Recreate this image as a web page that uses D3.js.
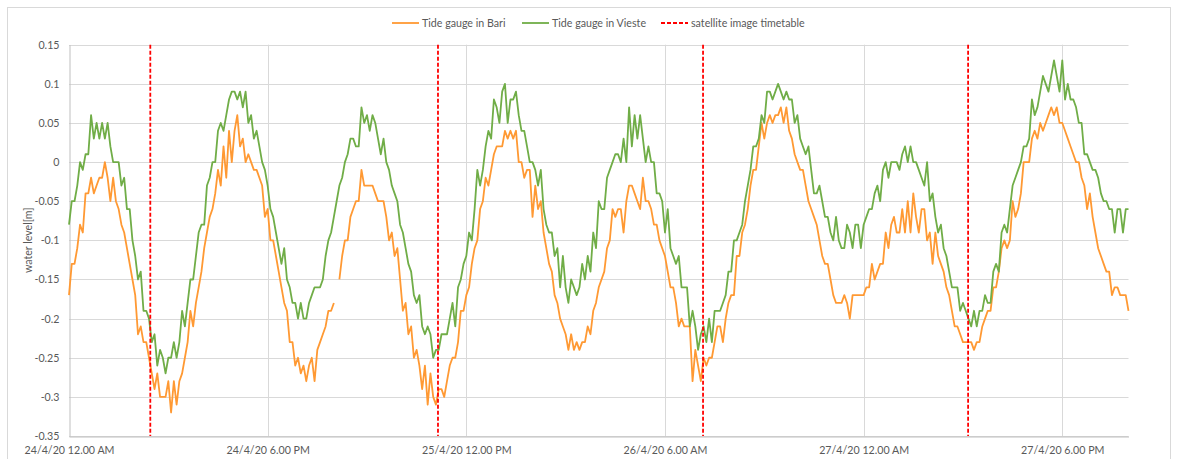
<!DOCTYPE html>
<html><head><meta charset="utf-8">
<script src="https://cdn.jsdelivr.net/npm/d3@7"></script>
<style>body{margin:0;background:#fff}svg{display:block}text{font-family:Lato,"Open Sans",sans-serif}</style>
</head><body><svg id="c" width="1178" height="459"></svg>
<script>
// ---------------- data ----------------
const seriesNames = ["Tide gauge in Bari", "Tide gauge in Vieste", "satellite image timetable"];
const startTime = new Date(2020, 3, 24, 0, 0);
const endTime = new Date(2020, 3, 28, 0, 0);
const stepMinutes = 15;
// water level [m], every 15 minutes from 24/4/20 00:00
const bari = [
-0.17,-0.13,-0.13,-0.11,-0.08,-0.09,-0.04,-0.04,-0.02,-0.04,-0.03,-0.02,-0.02,0.00,-0.02,-0.05,-0.02,-0.05,-0.06,-0.08,
-0.09,-0.11,-0.13,-0.15,-0.17,-0.22,-0.21,-0.23,-0.23,-0.25,-0.27,-0.29,-0.27,-0.30,-0.30,-0.30,-0.28,-0.32,-0.28,-0.31,
-0.28,-0.27,-0.25,-0.23,-0.19,-0.21,-0.18,-0.16,-0.14,-0.11,-0.09,-0.07,-0.06,-0.04,-0.01,-0.03,0.02,-0.02,0.04,0.00,
0.04,0.06,0.02,0.03,0.00,0.01,0.00,-0.01,-0.01,-0.02,-0.03,-0.07,-0.06,-0.10,-0.10,-0.12,-0.14,-0.16,-0.18,-0.19,
-0.23,-0.23,-0.26,-0.25,-0.27,-0.26,-0.28,-0.26,-0.25,-0.28,-0.24,-0.23,-0.22,-0.21,-0.19,-0.19,-0.18,null,-0.15,-0.12,
-0.10,-0.10,-0.07,-0.06,-0.05,-0.05,-0.01,-0.03,-0.03,-0.03,-0.03,-0.04,-0.05,-0.05,-0.05,-0.07,-0.10,-0.09,-0.12,-0.11,
-0.15,-0.19,-0.18,-0.22,-0.21,-0.25,-0.24,-0.26,-0.29,-0.26,-0.31,-0.27,-0.30,-0.31,-0.29,-0.29,-0.30,-0.28,-0.26,-0.25,
-0.25,-0.23,-0.19,-0.19,-0.17,-0.16,-0.13,-0.11,-0.10,-0.06,-0.05,-0.02,-0.03,-0.01,0.01,0.02,0.02,0.02,0.04,0.03,
0.04,0.03,0.04,0.00,0.00,-0.02,-0.01,-0.01,-0.07,-0.03,-0.06,-0.05,-0.09,-0.11,-0.13,-0.14,-0.17,-0.18,-0.20,-0.21,
-0.22,-0.24,-0.22,-0.24,-0.23,-0.24,-0.23,-0.23,-0.21,-0.22,-0.19,-0.18,-0.16,-0.15,-0.14,-0.11,-0.10,-0.06,-0.07,-0.06,
-0.06,-0.09,-0.05,-0.03,-0.03,-0.04,-0.05,-0.06,-0.02,-0.05,-0.05,-0.06,-0.08,-0.08,-0.10,-0.11,-0.12,-0.14,-0.16,-0.16,
-0.18,-0.21,-0.20,-0.21,-0.21,-0.21,-0.28,-0.24,-0.26,-0.28,-0.25,-0.26,-0.25,-0.25,-0.23,-0.21,-0.21,-0.23,-0.20,-0.18,
-0.17,-0.17,-0.12,-0.12,-0.09,-0.08,-0.06,-0.03,-0.01,-0.01,0.02,0.05,0.03,0.05,0.06,0.05,0.06,0.06,0.07,0.05,
0.07,0.04,0.03,0.01,0.00,-0.01,-0.01,-0.03,-0.05,-0.06,-0.07,-0.08,-0.10,-0.12,-0.13,-0.13,-0.15,-0.17,-0.18,-0.18,
-0.18,-0.17,-0.18,-0.20,-0.17,-0.17,-0.17,-0.17,-0.17,-0.16,-0.16,-0.13,-0.15,-0.14,-0.13,-0.13,-0.09,-0.11,-0.08,-0.07,
-0.09,-0.09,-0.06,-0.09,-0.05,-0.09,-0.04,-0.07,-0.09,-0.06,-0.06,-0.10,-0.09,-0.13,-0.09,-0.12,-0.13,-0.14,-0.16,-0.17,
-0.19,-0.21,-0.21,-0.22,-0.23,-0.23,-0.23,-0.23,-0.24,-0.23,-0.23,-0.21,-0.20,-0.19,-0.19,-0.16,-0.16,-0.14,-0.11,-0.10,
-0.11,-0.10,-0.05,-0.07,-0.06,-0.04,0.00,0.00,0.00,0.03,0.04,0.03,0.05,0.04,0.05,0.06,0.07,0.06,0.07,0.05,
0.05,0.04,0.03,0.02,0.01,0.00,0.00,-0.02,-0.03,-0.06,-0.04,-0.07,-0.09,-0.11,-0.12,-0.13,-0.14,-0.14,-0.17,-0.16,
-0.16,-0.17,-0.17,-0.17,-0.19
];
const vieste = [
-0.08,-0.05,-0.05,-0.03,0.00,-0.01,0.01,0.01,0.06,0.03,0.05,0.03,0.05,0.03,0.05,0.02,0.00,0.00,0.00,-0.03,
-0.02,-0.06,-0.06,-0.10,-0.12,-0.15,-0.14,-0.19,-0.19,-0.20,-0.23,-0.22,-0.26,-0.24,-0.25,-0.27,-0.25,-0.25,-0.23,-0.25,
-0.23,-0.19,-0.21,-0.18,-0.15,-0.15,-0.12,-0.09,-0.08,-0.08,-0.03,-0.02,0.00,0.00,0.04,0.05,0.04,0.06,0.08,0.09,
0.09,0.08,0.09,0.07,0.09,0.05,0.06,0.03,0.04,0.02,0.00,-0.01,-0.03,-0.06,-0.07,-0.09,-0.11,-0.13,-0.11,-0.15,
-0.16,-0.18,-0.18,-0.20,-0.18,-0.20,-0.20,-0.18,-0.17,-0.16,-0.16,-0.16,-0.15,-0.12,-0.10,-0.09,-0.07,-0.05,-0.03,-0.02,
0.00,0.01,0.03,0.03,0.02,0.02,0.07,0.05,0.06,0.04,0.06,0.05,0.03,0.01,0.03,0.00,-0.01,-0.03,-0.04,-0.05,
-0.08,-0.09,-0.11,-0.13,-0.14,-0.17,-0.18,-0.17,-0.21,-0.22,-0.21,-0.22,-0.25,-0.24,-0.24,-0.22,-0.22,-0.22,-0.20,-0.18,
-0.21,-0.16,-0.15,-0.13,-0.12,-0.09,-0.10,-0.06,-0.01,-0.03,-0.01,0.02,0.04,0.03,0.08,0.07,0.05,0.09,0.10,0.05,
0.08,0.08,0.09,0.06,0.04,0.04,0.02,0.00,0.00,-0.01,-0.03,-0.01,-0.06,-0.08,-0.09,-0.09,-0.12,-0.11,-0.16,-0.12,
-0.16,-0.18,-0.15,-0.16,-0.17,-0.16,-0.13,-0.15,-0.12,-0.14,-0.09,-0.11,-0.05,-0.06,-0.06,-0.02,-0.01,0.00,0.01,0.01,
0.00,0.03,0.00,0.07,0.02,0.06,0.03,0.06,0.03,0.00,0.02,0.00,0.00,-0.04,-0.04,-0.05,-0.09,-0.06,-0.11,-0.12,
-0.13,-0.12,-0.16,-0.16,-0.16,-0.21,-0.19,-0.21,-0.24,-0.22,-0.21,-0.23,-0.20,-0.23,-0.19,-0.19,-0.19,-0.18,-0.17,-0.14,
-0.14,-0.10,-0.10,-0.09,-0.08,-0.05,-0.03,-0.01,0.02,0.02,0.03,0.06,0.05,0.09,0.09,0.08,0.09,0.10,0.09,0.08,
0.09,0.08,0.08,0.05,0.06,0.03,0.02,0.01,0.02,-0.01,-0.04,-0.04,-0.03,-0.05,-0.07,-0.07,-0.09,-0.10,-0.07,-0.10,
-0.11,-0.11,-0.08,-0.09,-0.11,-0.08,-0.08,-0.11,-0.08,-0.07,-0.06,-0.06,-0.04,-0.03,-0.05,-0.01,0.00,-0.02,0.00,0.00,
0.00,-0.01,0.01,0.02,0.00,0.02,0.00,0.00,-0.01,-0.02,-0.03,0.00,-0.05,-0.04,-0.07,-0.09,-0.08,-0.11,-0.12,-0.14,
-0.16,-0.16,-0.16,-0.19,-0.18,-0.19,-0.20,-0.21,-0.19,-0.21,-0.19,-0.19,-0.17,-0.18,-0.18,-0.14,-0.13,-0.14,-0.09,-0.08,
-0.09,-0.06,-0.03,-0.02,-0.01,0.00,0.02,0.02,0.03,0.08,0.06,0.07,0.09,0.11,0.10,0.09,0.11,0.13,0.11,0.09,
0.13,0.08,0.10,0.08,0.08,0.07,0.05,0.05,0.01,0.01,0.00,-0.01,-0.01,-0.02,-0.04,-0.05,-0.05,-0.06,-0.06,-0.09,
-0.06,-0.06,-0.09,-0.06,-0.06
];
// satellite image acquisition times
const satelliteTimes = [
  new Date(2020, 3, 24, 7, 22), new Date(2020, 3, 25, 9, 26),
  new Date(2020, 3, 26, 9, 27), new Date(2020, 3, 27, 9, 28)
];
const xTickTimes = [
  new Date(2020, 3, 24, 0), new Date(2020, 3, 24, 18), new Date(2020, 3, 25, 12),
  new Date(2020, 3, 26, 6), new Date(2020, 3, 27, 0), new Date(2020, 3, 27, 18)
];
const xTickLabels = ["24/4/20 12.00 AM", "24/4/20 6.00 PM", "25/4/20 12.00 PM", "26/4/20 6.00 AM", "27/4/20 12.00 AM", "27/4/20 6.00 PM"];
const yTicks = [0.15, 0.1, 0.05, 0, -0.05, -0.1, -0.15, -0.2, -0.25, -0.3, -0.35];
const yTickLabels = ["0.15", "0.1", "0.05", "0", "-0.05", "-0.1", "-0.15", "-0.2", "-0.25", "-0.3", "-0.35"];
const yTitle = "water level[m]";

// ---------------- drawing ----------------
const times = bari.map((_, i) => new Date(startTime.getTime() + i * stepMinutes * 60000));
const colors = { bari: "#FF9933", vieste: "#70AD47", sat: "#FF0000" };
const fontSize = 10.67;
const svg = d3.select("#c");
const L = 69, R = 1128.5, T = 44.7, B = 436;

const x = d3.scaleTime().domain([startTime, endTime]).range([L, R]);
const y = d3.scaleLinear().domain([-0.35, 0.15]).range([B, T]);

svg.append("rect").attr("x", 7.5).attr("y", 7.5).attr("width", 1163).attr("height", 452)
  .attr("fill", "#fff").attr("stroke", "#d9d9d9");

// gridlines
svg.append("g").selectAll("line").data(yTicks).join("line")
  .attr("x1", L).attr("x2", R).attr("y1", d => Math.round(y(d)) + 0.5).attr("y2", d => Math.round(y(d)) + 0.5)
  .attr("stroke", "#d9d9d9").attr("stroke-width", 1);
svg.append("g").selectAll("line").data(xTickTimes.slice(1)).join("line")
  .attr("x1", d => Math.round(x(d)) + 0.5).attr("x2", d => Math.round(x(d)) + 0.5).attr("y1", T).attr("y2", B)
  .attr("stroke", "#d9d9d9").attr("stroke-width", 1);

// axes
const yAxis = d3.axisLeft(y).tickValues(yTicks).tickSize(0).tickPadding(10)
  .tickFormat((d, i) => yTickLabels[i]);
const gy = svg.append("g").attr("transform", `translate(${L + 0.5},0)`).call(yAxis);
gy.select(".domain").attr("stroke", "#bfbfbf");
gy.selectAll("text").attr("font-size", fontSize).attr("fill", "#595959").attr("font-family", "Lato");

const xAxis = d3.axisBottom(x).tickValues(xTickTimes).tickSize(0).tickPadding(10)
  .tickFormat((d, i) => xTickLabels[i]);
const gx = svg.append("g").attr("transform", `translate(0,${Math.round(B) + 0.5})`).call(xAxis);
gx.select(".domain").attr("stroke", "#bfbfbf");
gx.selectAll("text").attr("font-size", fontSize).attr("fill", "#595959").attr("font-family", "Lato");

svg.append("text").attr("transform", `translate(32,${(T + B) / 2}) rotate(-90)`)
  .attr("text-anchor", "middle").attr("font-size", fontSize).attr("fill", "#595959").text(yTitle);

// lines
const line = d3.line().defined(d => d[1] !== null).x(d => x(d[0])).y(d => y(d[1]));
svg.append("path").datum(times.map((t, i) => [t, bari[i]]))
  .attr("d", line).attr("fill", "none").attr("stroke", colors.bari).attr("stroke-width", 1.8).attr("stroke-linejoin", "round");
svg.append("path").datum(times.map((t, i) => [t, vieste[i]]))
  .attr("d", line).attr("fill", "none").attr("stroke", colors.vieste).attr("stroke-width", 1.8).attr("stroke-linejoin", "round");

// satellite lines
svg.append("g").selectAll("line").data(satelliteTimes).join("line")
  .attr("x1", d => x(d)).attr("x2", d => x(d)).attr("y1", T).attr("y2", B)
  .attr("stroke", colors.sat).attr("stroke-width", 1.8).attr("stroke-dasharray", "4,2");

// legend
const legend = [
  { name: seriesNames[0], color: colors.bari, dash: null, x: 392 },
  { name: seriesNames[1], color: colors.vieste, dash: null, x: 522 },
  { name: seriesNames[2], color: colors.sat, dash: "4,2", x: 661 }
];
const lg = svg.append("g").selectAll("g").data(legend).join("g").attr("transform", d => `translate(${d.x},23)`);
lg.append("line").attr("x1", 0).attr("x2", 27).attr("y1", 0).attr("y2", 0)
  .attr("stroke", d => d.color).attr("stroke-width", 1.8).attr("stroke-dasharray", d => d.dash);
lg.append("text").attr("x", 30).attr("y", 0).attr("dy", "0.35em").attr("font-size", fontSize).attr("fill", "#595959").text(d => d.name);
</script></body></html>
